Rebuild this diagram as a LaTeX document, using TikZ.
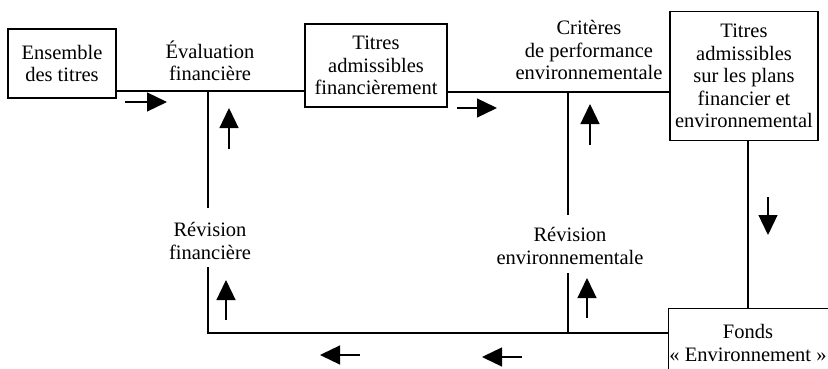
\documentclass[tikz,border=0pt]{standalone}
\usepackage{fontspec}
\setmainfont{Liberation Serif}
\usetikzlibrary{arrows.meta}

\tikzset{
  box/.style={draw, line width=1.1pt, inner sep=0pt, align=center},
  lbl/.style={inner sep=0pt, align=center},
  wire/.style={line width=1.1pt},
  flow/.style={line width=1.3pt, -{Triangle[length=20pt,width=19pt]}},
}

\begin{document}
\begin{tikzpicture}[x=1pt, y=-1pt,
  every node/.style={font=\fontsize{20.5}{22.5}\selectfont}]
  \useasboundingbox (0,0) rectangle (828,369);
  \clip (0,0) rectangle (828,369);

  % boxes
  \node[box, minimum width=108pt, minimum height=69pt] (ens) at (62,63.5)
    {Ensemble\\des titres};
  \node[box, minimum width=142pt, minimum height=83pt] (adf) at (376,65.5)
    {Titres\\admissibles\\financièrement};
  \node[box, minimum width=148pt, minimum height=129pt] (adfe) at (744,76)
    {Titres\\admissibles\\sur les plans\\financier et\\environnemental};
  \node[box, minimum width=180pt, minimum height=80pt, anchor=north west,
        text depth=0pt] (fonds) at (668,308) {};
  \node[lbl] (fondst) at (748,343) {Fonds\\« Environnement »};

  % labels on the flow
  \node[lbl] (evf) at (210,61) {Évaluation\\financière};
  \node[lbl] (crit) at (589,50) {Critères\\de performance\\environnementale};
  \node[lbl] (revf) at (210,241) {Révision\\financière};
  \node[lbl] (reve) at (570,246) {Révision\\environnementale};

  % junctions and breaks of the wiring
  \coordinate (jf) at (208,91);
  \coordinate (je) at (568,92);
  \coordinate (jfa) at (208,208);
  \coordinate (jfb) at (208,267);
  \coordinate (jea) at (568,215);
  \coordinate (jeb) at (568,273);
  \coordinate (cf) at (208,333);
  \coordinate (ce) at (568,333);
  \coordinate (xv) at (748,0);

  % main chain
  \draw[wire] (ens.east |- jf) -- (jf) -- (adf.west |- jf);
  \draw[wire] (adf.east |- je) -- (je) -- (adfe.west |- je);
  \draw[wire] (adfe.south -| xv) -- (fonds.north -| xv);

  % feedback loops
  \draw[wire] (jf) -- (jfa);
  \draw[wire] (jfb) -- (cf) -- (ce) -- (fonds.west |- ce);
  \draw[wire] (je) -- (jea);
  \draw[wire] (jeb) -- (ce);

  % direction arrows
  \draw[flow] (125,102) -- (167,102);
  \draw[flow] (457,108) -- (497,108);
  \draw[flow] (229,149) -- (229,108);
  \draw[flow] (590,145) -- (590,104);
  \draw[flow] (768,197) -- (768,235);
  \draw[flow] (226,320) -- (226,280);
  \draw[flow] (587,318) -- (587,278);
  \draw[flow] (360,355) -- (320,355);
  \draw[flow] (522,357) -- (482,357);
\end{tikzpicture}
\end{document}
